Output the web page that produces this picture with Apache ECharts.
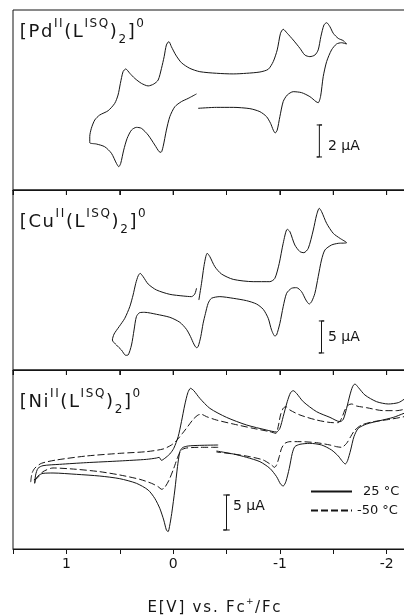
<!DOCTYPE html>
<html><head><meta charset="utf-8">
<script src="https://cdn.jsdelivr.net/npm/echarts@6/dist/echarts.min.js"></script>
<style>html,body{margin:0;padding:0;background:#fff}#c{width:404px;height:616px}</style>
</head><body><div id="c"></div>
<script>
const FONT = 'DejaVu Sans';
const xLabelValues = [1, 0, -1, -2];
const xTickValues = [1.5, 1, 0.5, 0, -0.5, -1, -1.5, -2, -2.5];
const legendNames = ['25 °C', '-50 °C'];
const barLabels = ['2 µA', '5 µA', '5 µA'];

// [Pd(L)2] cyclic voltammogram: [E (V vs Fc+/Fc), I (µA)]
const pdCurve = [[-0.234,-0.52],[-0.406,-0.46],[-0.563,-0.46],[-0.719,-0.54],[-0.813,-0.73],[-0.875,-1.04],[-0.913,-1.46],[-0.938,-1.88],[-0.956,-2.06],[-0.975,-1.88],[-1.0,-1.04],[-1.031,-0.1],[-1.069,0.31],[-1.125,0.52],[-1.203,0.46],[-1.281,0.21],[-1.338,-0.1],[-1.359,-0.17],[-1.381,0.21],[-1.406,1.46],[-1.438,2.4],[-1.484,3.13],[-1.531,3.5],[-1.578,3.58],[-1.625,3.5],
[-1.594,3.71],[-1.547,3.85],[-1.5,4.17],[-1.469,4.58],[-1.438,4.83],[-1.413,4.69],[-1.384,3.96],[-1.359,3.13],[-1.328,2.81],[-1.281,2.71],[-1.234,2.81],[-1.188,3.23],[-1.125,3.75],[-1.069,4.17],[-1.031,4.42],[-1.006,4.17],[-0.975,3.13],[-0.938,2.4],[-0.891,1.92],[-0.813,1.75],[-0.688,1.67],[-0.563,1.63],[-0.406,1.67],[-0.25,1.77],[-0.156,1.98],[-0.078,2.33],[-0.025,2.81],[0.016,3.33],[0.04,3.65],[0.063,3.44],[0.084,2.71],[0.109,1.98],[0.14,1.25],[0.181,1.0],[0.234,0.88],[0.297,1.04],[0.359,1.35],[0.406,1.67],[0.444,1.94],[0.469,1.77],[0.494,1.04],[0.516,0.31],[0.547,-0.21],[0.609,-0.67],[0.688,-0.94],[0.734,-1.25],[0.766,-1.77],[0.781,-2.29],[0.781,-2.67],
[0.719,-2.75],[0.641,-2.92],[0.578,-3.33],[0.531,-3.96],[0.509,-4.17],[0.491,-3.96],[0.463,-3.13],[0.431,-2.4],[0.39,-1.88],[0.344,-1.71],[0.297,-1.77],[0.234,-2.19],[0.172,-2.81],[0.131,-3.23],[0.113,-3.27],[0.094,-2.92],[0.063,-1.88],[0.031,-1.04],[-0.016,-0.42],[-0.078,-0.1],[-0.141,0.1],[-0.219,0.38]];

// [Cu(L)2]
const cuCurve = [[-0.241,-3.13],[-0.266,-0.52],[-0.288,2.08],[-0.306,3.65],[-0.319,4.17],[-0.344,3.65],[-0.391,2.08],[-0.453,0.94],[-0.563,0.1],[-0.75,-0.26],[-0.906,-0.26],[-0.953,0.26],[-0.994,2.6],[-1.031,5.73],[-1.069,7.92],[-1.094,7.55],[-1.14,5.47],[-1.188,4.43],[-1.225,4.27],[-1.266,4.95],[-1.313,7.81],[-1.344,10.16],[-1.369,11.2],[-1.391,10.68],[-1.438,8.85],[-1.5,7.29],[-1.563,6.51],[-1.625,5.83],
[-1.547,5.73],[-1.484,5.47],[-1.422,4.69],[-1.39,3.13],[-1.359,0.52],[-1.328,-2.08],[-1.297,-3.39],[-1.275,-3.75],[-1.244,-3.13],[-1.203,-1.82],[-1.156,-1.2],[-1.109,-1.3],[-1.063,-2.08],[-1.031,-4.17],[-1.0,-6.77],[-0.969,-8.59],[-0.953,-8.75],[-0.922,-7.81],[-0.891,-5.99],[-0.844,-4.58],[-0.781,-3.75],[-0.688,-3.23],[-0.563,-2.86],[-0.438,-2.6],[-0.359,-2.86],[-0.328,-3.65],[-0.303,-5.21],[-0.281,-6.77],[-0.259,-8.85],[-0.234,-10.42],[-0.219,-10.57],[-0.194,-10.0],[-0.163,-8.85],[-0.125,-7.71],[-0.063,-6.61],[0.031,-5.83],[0.156,-5.36],[0.266,-5.05],[0.313,-5.1],[0.344,-5.73],[0.366,-7.81],[0.39,-10.16],[0.422,-11.72],[0.444,-11.77],[0.484,-10.94],[0.531,-10.16],[0.569,-9.38],
[0.553,-8.44],[0.506,-7.29],[0.453,-5.99],[0.406,-4.17],[0.375,-2.34],[0.35,-0.52],[0.328,0.63],[0.309,1.04],[0.281,0.52],[0.234,-0.63],[0.156,-1.56],[0.031,-2.24],[-0.094,-2.5],[-0.172,-2.6],[-0.203,-2.19],[-0.219,-1.3]];

// [Ni(L)2] at 25 °C
const ni25 = [[-0.422,2.07],[-0.25,2.02],[-0.141,1.93],[-0.088,1.69],[-0.063,1.12],[-0.041,-1.02],[-0.016,-4.36],[0.013,-7.69],[0.034,-9.6],[0.047,-10.31],[0.063,-10.07],[0.088,-8.64],[0.125,-6.98],[0.172,-5.55],[0.234,-4.36],[0.344,-3.4],[0.5,-2.74],[0.688,-2.36],[0.906,-2.12],[1.125,-1.93],[1.219,-1.98],[1.266,-2.36],[1.29,-2.93],[1.297,-3.4],
[1.288,-2.21],[1.266,-1.26],[1.219,-0.88],[1.063,-0.69],[0.813,-0.45],[0.5,-0.21],[0.25,0.02],[0.156,0.21],[0.131,0.31],[0.109,-0.12],[0.078,0.17],[0.031,0.79],[-0.006,1.6],[-0.047,3.26],[-0.078,5.4],[-0.109,7.79],[-0.138,9.55],[-0.163,10.17],[-0.194,9.83],[-0.25,8.74],[-0.344,7.31],[-0.5,6.02],[-0.688,4.93],[-0.875,4.21],[-0.969,3.93],[-1.0,4.45],[-1.031,6.12],[-1.069,8.26],[-1.1,9.55],[-1.125,9.83],[-1.156,9.45],[-1.219,8.26],[-1.344,6.83],[-1.469,6.02],[-1.563,5.4],[-1.594,5.74],[-1.625,7.31],[-1.656,9.21],[-1.681,10.4],[-1.703,10.79],[-1.734,10.31],[-1.797,9.21],[-1.906,8.26],[-2.016,7.93],[-2.109,8.12],[-2.163,8.6],[-2.203,9.21],
[-2.203,6.83],[-2.163,6.6],[-2.063,6.02],[-1.938,5.55],[-1.813,5.07],[-1.734,4.45],[-1.694,3.26],[-1.663,1.36],[-1.634,-0.17],[-1.613,-0.64],[-1.588,-0.31],[-1.547,0.5],[-1.484,1.36],[-1.391,2.07],[-1.281,2.31],[-1.188,2.17],[-1.14,1.83],[-1.116,0.88],[-1.088,-1.26],[-1.056,-3.17],[-1.031,-3.79],[-1.006,-3.5],[-0.969,-2.45],[-0.906,-1.26],[-0.813,-0.31],[-0.688,0.31],[-0.563,0.79],[-0.406,1.21]];

// [Ni(L)2] at -50 °C
const niM50 = [[-0.422,1.74],[-0.25,1.74],[-0.125,1.64],[-0.078,1.36],[-0.047,0.5],[-0.006,-1.26],[0.038,-2.93],[0.078,-3.98],[0.106,-4.26],[0.141,-3.88],[0.203,-3.4],[0.313,-2.83],[0.5,-2.21],[0.688,-1.74],[0.906,-1.4],[1.125,-1.21],[1.219,-1.74],[1.266,-2.55],[1.334,-3.17],
[1.322,-1.98],[1.297,-1.26],[1.234,-0.55],[1.094,-0.07],[0.813,0.5],[0.5,0.88],[0.25,1.12],[0.094,1.5],[0.016,2.07],[-0.031,2.69],[-0.088,3.74],[-0.141,4.79],[-0.188,5.74],[-0.234,6.36],[-0.266,6.45],[-0.313,6.12],[-0.406,5.64],[-0.563,5.07],[-0.75,4.45],[-0.906,3.98],[-0.963,3.74],[-0.984,4.69],[-1.006,6.36],[-1.031,7.31],[-1.056,7.55],[-1.094,7.07],[-1.188,6.36],[-1.344,5.64],[-1.5,5.26],[-1.547,5.26],[-1.578,5.88],[-1.609,7.07],[-1.641,7.79],[-1.672,7.93],[-1.719,7.64],[-1.813,7.4],[-1.969,6.98],[-2.094,6.98],[-2.163,7.17],[-2.203,7.45],
[-2.203,6.36],[-2.163,6.12],[-2.031,5.74],[-1.875,5.4],[-1.766,4.93],[-1.703,4.21],[-1.663,3.26],[-1.625,2.31],[-1.578,1.74],[-1.531,1.83],[-1.469,2.07],[-1.344,2.4],[-1.188,2.55],[-1.094,2.55],[-1.047,2.31],[-1.016,1.6],[-0.994,0.4],[-0.969,-0.79],[-0.95,-1.12],[-0.922,-0.79],[-0.844,-0.07],[-0.719,0.4],[-0.563,0.79],[-0.406,1.07]];

// current scale bars [E, I]
const pdBar = [[-1.345,-1.56],[-1.395,-1.56],[-1.37,-1.56],[-1.37,-3.56],[-1.345,-3.56],[-1.395,-3.56]];
const cuBar = [[-1.365,-6.4],[-1.415,-6.4],[-1.39,-6.4],[-1.39,-11.4],[-1.365,-11.4],[-1.415,-11.4]];
const niBar = [[-0.47,-5.07],[-0.53,-5.07],[-0.5,-5.07],[-0.5,-10.07],[-0.47,-10.07],[-0.53,-10.07]];

const yRanges = [[-5.625, 5.625], [-14.0625, 14.0625], [-12.786, 12.786]];

function rich(parts) {
  return parts.map(([s, t]) => Array.from(t).map(c => '{' + s + '|' + c + '}').join('')).join('');
}
const C = '#151515';
const R = {
  m: {fontFamily: FONT, fontWeight: 'normal', fontSize: 18, lineHeight: 28, color: C, padding: [0, 0.8]},
  u: {fontFamily: FONT, fontWeight: 'normal', fontSize: 12, lineHeight: 12, verticalAlign: 'top', color: C, padding: [0, 0.8]},
  d: {fontFamily: FONT, fontWeight: 'normal', fontSize: 12, lineHeight: 12, verticalAlign: 'bottom', color: C, padding: [0, 0.8]},
  a: {fontFamily: FONT, fontWeight: 'normal', fontSize: 15, lineHeight: 22, color: C, padding: [0, 0.9]},
  b: {fontFamily: FONT, fontWeight: 'normal', fontSize: 9, lineHeight: 12, verticalAlign: 'top', color: C, padding: [0, 0.5]}
};
function complexTitle(metal) {
  return rich([['m', '[' + metal], ['u', 'II'], ['m', '(L'], ['u', 'ISQ'], ['m', ')'], ['d', '2'], ['m', ']'], ['u', '0']]);
}
const axisTitle = rich([['a', 'E[V] vs. Fc'], ['b', '+'], ['a', '/Fc']]);

const tops = [10, 190, 370];
const heights = [180, 180, 179];
const TICK_PX = 5;
const grids = tops.map((t, i) => ({left: 13, width: 427, top: t, height: heights[i], show: true,
  backgroundColor: 'transparent', borderColor: C, borderWidth: 1, containLabel: false, outerBoundsMode: 'none'}));

const axisDefs = [
  {grid: 0, pos: 'bottom', ticks: false, inside: false, labels: false},
  {grid: 1, pos: 'top', ticks: true, inside: true, labels: false},
  {grid: 2, pos: 'top', ticks: true, inside: true, labels: false},
  {grid: 2, pos: 'bottom', ticks: true, inside: false, labels: true}
];
const xAxes = axisDefs.map(d => ({
  gridIndex: d.grid, type: 'value', inverse: true, min: -2.5, max: 1.5, interval: 0.5, position: d.pos, z: 10,
  axisLine: {show: true, onZero: false, lineStyle: {color: C, width: 1}},
  axisTick: {show: d.ticks, inside: d.inside, length: TICK_PX, lineStyle: {color: C, width: 1}},
  axisLabel: {show: d.labels, margin: 8, fontFamily: FONT, fontSize: 14, color: C,
    formatter: v => xLabelValues.includes(v) ? String(v) : ''},
  splitLine: {show: false}
}));
const yAxes = yRanges.map((r, i) => ({gridIndex: i, type: 'value', min: r[0], max: r[1], show: false,
  axisLine: {onZero: false}}));

// tick marks hanging from the top edge of panels 2 and 3, built from the tick values and the panel's scale
function topTicks(gi) {
  const r = yRanges[gi];
  const len = (r[1] - r[0]) * TICK_PX / heights[gi];
  const out = [];
  xTickValues.forEach(v => { out.push([v, r[1]], [v, r[1] - len], null); });
  return out;
}

const base = {type: 'line', symbol: 'none', showSymbol: false, silent: true, animation: false,
  itemStyle: {color: C}};
const series = [
  Object.assign({}, base, {xAxisIndex: 0, yAxisIndex: 0, data: pdCurve, smooth: 0.25, lineStyle: {color: C, width: 1}}),
  Object.assign({}, base, {xAxisIndex: 1, yAxisIndex: 1, data: cuCurve, smooth: 0.25, lineStyle: {color: C, width: 1}}),
  Object.assign({}, base, {name: legendNames[0], xAxisIndex: 3, yAxisIndex: 2, data: ni25, smooth: 0.25, lineStyle: {color: C, width: 1}}),
  Object.assign({}, base, {name: legendNames[1], xAxisIndex: 3, yAxisIndex: 2, data: niM50, smooth: 0.25, lineStyle: {color: C, width: 1, type: [7, 3]}}),
  Object.assign({}, base, {xAxisIndex: 0, yAxisIndex: 0, data: pdBar, lineStyle: {color: C, width: 1}}),
  Object.assign({}, base, {xAxisIndex: 1, yAxisIndex: 1, data: cuBar, lineStyle: {color: C, width: 1}}),
  Object.assign({}, base, {xAxisIndex: 3, yAxisIndex: 2, data: niBar, lineStyle: {color: C, width: 1}}),
  Object.assign({}, base, {xAxisIndex: 1, yAxisIndex: 1, data: topTicks(1), connectNulls: false, clip: false, lineStyle: {color: C, width: 1}}),
  Object.assign({}, base, {xAxisIndex: 3, yAxisIndex: 2, data: topTicks(2), connectNulls: false, clip: false, lineStyle: {color: C, width: 1}})
];

const chart = echarts.init(document.getElementById('c'), null, {renderer: 'canvas'});
chart.setOption({
  backgroundColor: '#fff',
  animation: false,
  grid: grids,
  xAxis: xAxes,
  yAxis: yAxes,
  series: series,
  title: [
    {text: complexTitle('Pd'), left: 19, top: 18, padding: 0, textStyle: {fontWeight: 'normal', rich: R}},
    {text: complexTitle('Cu'), left: 19, top: 208, padding: 0, textStyle: {fontWeight: 'normal', rich: R}},
    {text: complexTitle('Ni'), left: 19, top: 388, padding: 0, textStyle: {fontWeight: 'normal', rich: R}},
    {text: axisTitle, left: 214, top: 597, textAlign: 'center', padding: 0, textStyle: {fontWeight: 'normal', rich: R}}
  ],
  legend: {
    data: legendNames, orient: 'vertical', left: 310, top: 485, padding: 0,
    itemWidth: 41, itemHeight: 14, itemGap: 6, selectedMode: false,
    itemStyle: {color: 'transparent', borderColor: 'transparent', borderWidth: 0, opacity: 0},
    formatter: n => n === legendNames[0] ? '{w|' + n + '}' : n,
    textStyle: {fontFamily: FONT, fontSize: 13, color: C, rich: {w: {fontFamily: FONT, fontSize: 13, color: C, padding: [0, 0, 0, 6]}}}
  },
  graphic: [
    {type: 'text', left: 328, top: 139, style: {text: barLabels[0], font: '14px "DejaVu Sans"', fill: C}},
    {type: 'text', left: 328, top: 330, style: {text: barLabels[1], font: '14px "DejaVu Sans"', fill: C}},
    {type: 'text', left: 233, top: 499, style: {text: barLabels[2], font: '14px "DejaVu Sans"', fill: C}}
  ]
});
</script>
</body></html>
